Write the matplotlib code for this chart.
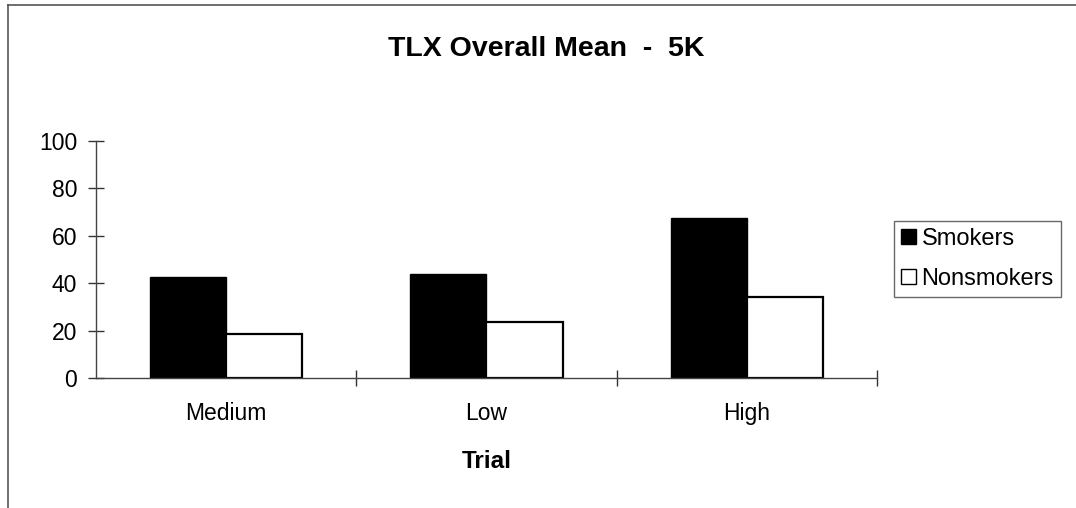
import numpy as np
import matplotlib.pyplot as plt
from matplotlib.lines import Line2D

trials = ["Medium", "Low", "High"]
smokers = [42.6, 43.9, 67.5]
nonsmokers = [18.7, 23.6, 34.0]
yticks = [0, 20, 40, 60, 80, 100]

plt.rcParams['font.family'] = ['Liberation Sans', 'DejaVu Sans']

fig = plt.figure(figsize=(10.76, 5.08), dpi=100)
ax = fig.add_axes([96/1076, 1-378/508, (877-96)/1076, (378-141)/508])

x = np.arange(len(trials))
w = 0.292
ax.bar(x - w/2, smokers, w, color='black', edgecolor='black', linewidth=1, label='Smokers')
ax.bar(x + w/2, nonsmokers, w, color='white', edgecolor='black', linewidth=1.6, label='Nonsmokers')

ax.set_xlim(-0.5, 2.5)
ax.set_ylim(0, 100)
ax.set_yticks(yticks)
ax.set_xticks(x)
ax.set_xticklabels(trials, fontsize=16.5)
ax.set_xticks([0.5, 1.5, 2.5], minor=True)
ax.tick_params(axis='x', which='major', length=0, pad=17)
ax.tick_params(axis='x', which='minor', direction='inout', length=11, width=1, color='#333333')
ax.tick_params(axis='y', direction='inout', length=11, width=1, color='#333333', labelsize=16.5, pad=8)
ax.set_xlabel("Trial", fontsize=17.5, fontweight='bold', labelpad=18)

for s in ['top', 'right']:
    ax.spines[s].set_visible(False)
for s in ['left', 'bottom']:
    ax.spines[s].set_color('#444444')
    ax.spines[s].set_linewidth(1)

fig.text(546/1076, 1-49/508, "TLX Overall Mean  -  5K", ha='center', va='center',
         fontsize=20.5, fontweight='bold')

leg = fig.legend(loc='center', bbox_to_anchor=(0.829, 0.413, 0.159, 0.154),
                 fontsize=17, frameon=True, fancybox=False, handlelength=0.6,
                 handleheight=0.6, handletextpad=0.25, labelspacing=0.75,
                 borderpad=0.3, borderaxespad=0)
leg.get_frame().set_edgecolor('#444444')
leg.get_frame().set_linewidth(1)
for h in leg.legend_handles:
    h.set_linewidth(1)

# outer frame
fig.add_artist(Line2D([8/1076, 8/1076], [0, 1-5/508], color='#555555', lw=1.2))
fig.add_artist(Line2D([8/1076, 1], [1-5/508, 1-5/508], color='#555555', lw=1.2))

fig.savefig("out.png", dpi=100)
